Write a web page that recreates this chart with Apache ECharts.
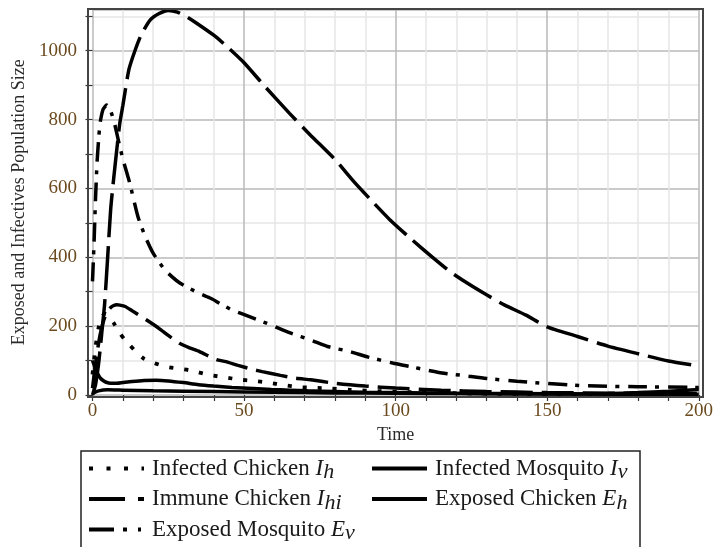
<!DOCTYPE html>
<html><head><meta charset="utf-8">
<script src="https://cdn.jsdelivr.net/npm/echarts@6/dist/echarts.min.js"></script>
<style>html,body{margin:0;padding:0;background:#fff}#c{width:716px;height:547px}</style>
</head><body><div id="c"></div>
<script>
// Infected Chicken I_h (dotted)
const infChickT = [0,1,2,3,4,5,6,7,8,9,10.5,12.3,14.5,16.7,20,24.3,28,32,38.6,44,48,53,58,63,68,73,78.5,85,95,105,120,140,170,200];
const infChickV = [60,140,195,225,236,233,222,209,195,180,162,145,124,107,94,82,77,72,58,51,45,41,36,29,23,21,19,15,11,8,5,3,2,1];
// Infected Mosquito I_v (solid)
const infMosqT = [0,0.5,1,1.5,2,2.7,3.5,4.5,6,8,10,13,17,21,25,30,35,40,46,53,59,65,71,80,90,100,120,140,160,180,200];
const infMosqV = [100,88,76,66,57,48,42,37,34,34,36,39,42,43,41,36,30,26,22,19,16,14,12,10,8,7,5,4,3,2,2];
// Immune Chicken I_hi (long dash)
const immuneT = [0,1,2,2.5,3,4,5,6,7,8,9,10,12,14,16,19,22,25,28,31,34,40,45,50,57,65,72,80,86,92,98,105,112,118,124,130,136,143,150,160,170,180,190,200];
const immuneV = [0,30,90,131,175,265,400,540,630,712,789,840,945,1000,1045,1089,1108,1117,1112,1099,1082,1045,1007,965,895,818,754,684,622,565,510,454,401,358,323,291,261,232,198,170,142,120,99,84];
// Exposed Chicken E_h (solid)
const expChickT = [0,2,5,10,20,40,60,80,100,120,140,160,170,180,190,200];
const expChickV = [5,12,15,14,12,10,8,6,5,4,3,3,4,7,11,16];
// Exposed Mosquito E_v (dash-dot)
const expMosqT = [0,0.5,1,1.5,2,2.5,3.5,4.7,5.5,6.5,7.5,8.5,10,12.3,15,17.5,20,24,28.7,35,39,42,46,52,59,65,72.5,77.5,85,91,99,105,110,116,122,130,140,149,162,180,200];
const expMosqV = [330,440,570,675,740,790,830,842,835,812,780,741,686,615,518,458,412,362,326,296,281,266,247,227,203,181,158,141,126,110,93,82,73,63,57,48,40,34,27,24,22];
// Additional dashed curve (no legend entry)
const dashT = [0,1,2,3,4,5,6,7,8,9,10.8,13,16,18,22,25,28.7,32,35.3,40.8,44,48,53,56,62,67,72,80,90,100,115,130,150,175,200];
const dashV = [20,90,150,195,225,243,254,260,262,261,257,245,228,217,193,173,150,137,126,103,97,86,74,68,57,49,44,34,26,20,14,10,7,5,4];

const xLabels = [0,50,100,150,200];
const yLabels = [0,200,400,600,800,1000];

const zip = (t, v) => t.map((x, i) => [x, v[i]]);
const serif = '"Liberation Serif","DejaVu Serif",serif';

const legendText = {
  'Infected Chicken I_h': '{n|Infected Chicken }{i|I}{s|h}',
  'Infected Mosquito I_v': '{n|Infected Mosquito }{i|I}{s|v}',
  'Immune Chicken I_hi': '{n|Immune Chicken }{i|I}{s|hi}',
  'Exposed Chicken E_h': '{n|Exposed Chicken }{i|E}{s|h}',
  'Exposed Mosquito E_v': '{n|Exposed Mosquito }{i|E}{s|v}'
};
const rich = {
  n: {fontFamily: serif, fontSize: 23, color: '#1a1a1a', lineHeight: 30, padding: [0,0,0,3]},
  i: {fontFamily: serif, fontSize: 23, fontStyle: 'italic', color: '#1a1a1a', lineHeight: 30},
  s: {fontFamily: serif, fontSize: 22, fontStyle: 'italic', color: '#1a1a1a', lineHeight: 14, verticalAlign: 'bottom'}
};

function mk(name, t, v, lineType, width) {
  return {
    name: name, type: 'line', data: zip(t, v), symbol: 'none', smooth: 0.2,
    lineStyle: {color: '#000', width: width || 3.5, type: lineType, cap: 'butt'},
    itemStyle: {color: '#000'}, z: 5
  };
}

const hideSym = {opacity: 0, borderWidth: 0};
const chart = echarts.init(document.getElementById('c'));
const legendBase = {
  orient: 'vertical', top: 457, padding: 0, itemGap: 4, itemWidth: 55, itemHeight: 14,
  selectedMode: false, formatter: n => legendText[n] || n,
  textStyle: {rich: rich, fontFamily: serif, fontSize: 23, color: '#1a1a1a'}
};
chart.setOption({
  animation: false,
  backgroundColor: '#fff',
  grid: {left: 92.5, right: 14, top: 9.4, bottom: 152},
  xAxis: {
    type: 'value', min: 0, max: 200, interval: 10, offset: 2,
    name: 'Time', nameLocation: 'middle', nameGap: 26,
    nameTextStyle: {fontFamily: serif, fontSize: 18, color: '#2a2a2a'},
    axisLine: {show: false},
    axisTick: {show: true, length: 6, lineStyle: {color: '#333', width: 1.2}},
    axisLabel: {margin: 5, fontFamily: serif, fontSize: 19, color: '#6b4a1f',
      formatter: v => xLabels.indexOf(v) >= 0 ? String(v) : ''},
    splitLine: {show: true, lineStyle: {color: ['#b8b8b8','#e6e6e6','#e6e6e6','#e6e6e6','#e6e6e6'], width: 1.5}}
  },
  yAxis: {
    type: 'value', min: 0, max: 1120, interval: 100, offset: 4.5,
    name: 'Exposed and Infectives Population Size', nameLocation: 'middle', nameGap: 58,
    nameTextStyle: {fontFamily: serif, fontSize: 18, color: '#2a2a2a'},
    axisLine: {show: false},
    axisTick: {show: true, length: 7, lineStyle: {color: '#333', width: 1.2}},
    axisLabel: {margin: 11, fontFamily: serif, fontSize: 19, color: '#6b4a1f', showMaxLabel: false,
      formatter: v => yLabels.indexOf(v) >= 0 ? String(v) : ''},
    splitLine: {show: true, lineStyle: {color: ['#b8b8b8','#e6e6e6'], width: 1.5}}
  },
  legend: [
    Object.assign({}, legendBase, {left: 87, data: [
      {name: 'Infected Chicken I_h', itemStyle: hideSym, lineStyle: {type: [4, 13.5], width: 4, cap: 'butt'}},
      {name: 'Immune Chicken I_hi', itemStyle: hideSym, lineStyle: {type: [36, 13, 6, 50], width: 4, cap: 'butt'}},
      {name: 'Exposed Mosquito E_v', itemStyle: hideSym, lineStyle: {type: [25, 9, 4, 11, 3, 30], width: 4, cap: 'butt'}}
    ]}),
    Object.assign({}, legendBase, {left: 370, data: [
      {name: 'Infected Mosquito I_v', itemStyle: hideSym, lineStyle: {width: 4}},
      {name: 'Exposed Chicken E_h', itemStyle: hideSym, lineStyle: {width: 4}}
    ]})
  ],
  graphic: [
    {type: 'rect', z: 100, shape: {x: 88, y: 9, width: 615, height: 388},
      style: {fill: 'none', stroke: '#444', lineWidth: 2}},
    {type: 'rect', z: 100, shape: {x: 81, y: 451, width: 559, height: 120},
      style: {fill: 'none', stroke: '#222', lineWidth: 1.5}}
  ],
  series: [
    mk('Infected Chicken I_h', infChickT, infChickV, [4, 11], 3.8),
    mk('Infected Mosquito I_v', infMosqT, infMosqV, 'solid'),
    mk('Immune Chicken I_hi', immuneT, immuneV, [44, 9]),
    mk('Exposed Chicken E_h', expChickT, expChickV, 'solid'),
    mk('Exposed Mosquito E_v', expMosqT, expMosqV, [19, 8, 4, 9]),
    mk('Unlabelled dashed curve', dashT, dashV, [32, 9])
  ]
});
</script></body></html>
